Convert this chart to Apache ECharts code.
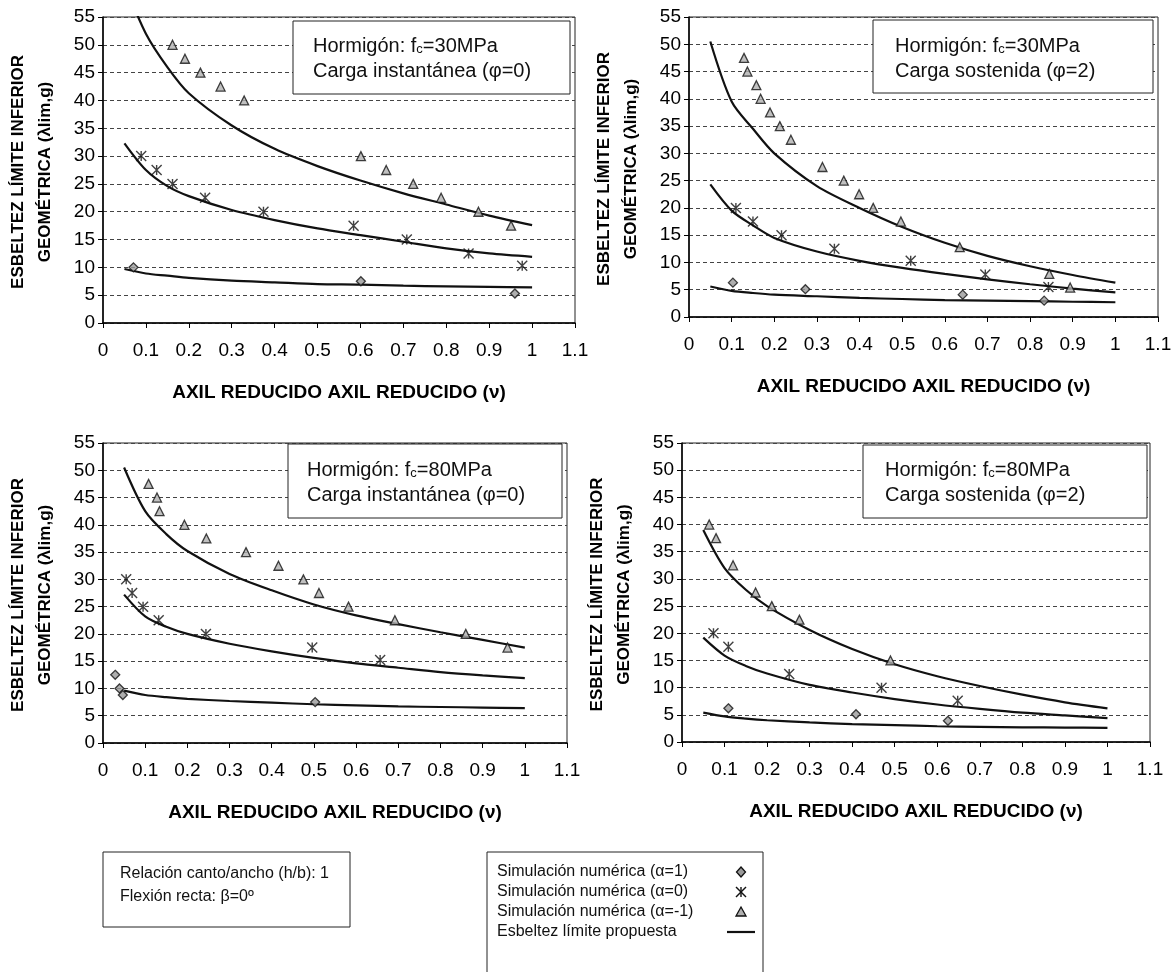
<!DOCTYPE html>
<html><head><meta charset="utf-8">
<script src="https://cdn.jsdelivr.net/npm/echarts/dist/echarts.min.js"></script>
<style>html,body{margin:0;padding:0;background:#fff}#c{width:1175px;height:972px}</style>
</head><body><div id="c"></div>
<script>
// ---------- DATA ----------
const xTickLabels = ['0','0.1','0.2','0.3','0.4','0.5','0.6','0.7','0.8','0.9','1','1.1'];
const curveX = [0.05, 0.1, 0.15, 0.2, 0.3, 0.4, 0.5, 0.6, 0.7, 0.8, 0.9, 1.0];

// Panel 1: fc=30MPa, carga instantánea (φ=0)
const p1Alpha1  = [[0.071,10],[0.601,7.5],[0.960,5.3]];
const p1Alpha0  = [[0.089,30],[0.125,27.5],[0.162,25],[0.238,22.5],[0.374,20],[0.584,17.5],[0.708,15],[0.852,12.5],[0.977,10.3]];
const p1AlphaM1 = [[0.162,50],[0.191,47.5],[0.227,45],[0.274,42.5],[0.329,40],[0.601,30],[0.660,27.5],[0.723,25],[0.788,22.5],[0.875,20],[0.951,17.5]];
const p1LimTop  = [61, 52, 46, 41.3, 35.5, 31.3, 28.2, 25.6, 23.3, 21.3, 19.3, 17.6];
const p1LimMid  = [32.3, 27.5, 24.6, 22.8, 20.3, 18.5, 17.0, 15.8, 14.6, 13.4, 12.5, 11.9];
const p1LimLow  = [9.7, 8.9, 8.5, 8.1, 7.6, 7.3, 7.0, 6.9, 6.7, 6.6, 6.5, 6.4];

// Panel 2: fc=30MPa, carga sostenida (φ=2)
const p2Alpha1  = [[0.103,6.3],[0.273,5.1],[0.642,4.1],[0.833,3.0]];
const p2Alpha0  = [[0.110,20],[0.150,17.5],[0.217,15],[0.341,12.5],[0.520,10.3],[0.695,7.8],[0.843,5.5]];
const p2AlphaM1 = [[0.129,47.5],[0.137,45],[0.158,42.5],[0.168,40],[0.190,37.5],[0.213,35],[0.239,32.5],[0.313,27.5],[0.363,25],[0.399,22.5],[0.432,20],[0.497,17.5],[0.635,12.8],[0.845,7.9],[0.894,5.4]];
const p2LimTop  = [50.5, 39.5, 34.5, 30, 24, 20, 16.5, 13.6, 11.2, 9.3, 7.7, 6.3];
const p2LimMid  = [24.3, 19.5, 16.8, 14.5, 12, 10.3, 9.0, 7.9, 6.9, 6.0, 5.2, 4.5];
const p2LimLow  = [5.6, 4.8, 4.4, 4.1, 3.8, 3.5, 3.3, 3.1, 3.0, 2.9, 2.8, 2.7];

// Panel 3: fc=80MPa, carga instantánea (φ=0)
const p3Alpha1  = [[0.029,12.5],[0.039,10],[0.047,8.8],[0.503,7.5]];
const p3Alpha0  = [[0.055,30],[0.069,27.5],[0.095,25],[0.132,22.5],[0.244,20],[0.496,17.5],[0.657,15.2]];
const p3AlphaM1 = [[0.108,47.5],[0.128,45],[0.134,42.5],[0.193,40],[0.245,37.5],[0.339,35],[0.416,32.5],[0.475,30],[0.512,27.5],[0.582,25],[0.692,22.5],[0.860,20],[0.959,17.5]];
const p3LimTop  = [50.5, 42.5, 38.3, 35.2, 31, 28, 25.4, 23.4, 21.8, 20.3, 18.9, 17.5];
const p3LimMid  = [27.2, 23.2, 21.3, 20, 18.2, 16.8, 15.6, 14.6, 13.8, 13.0, 12.4, 11.9];
const p3LimLow  = [9.6, 8.8, 8.4, 8.1, 7.7, 7.4, 7.1, 6.9, 6.7, 6.6, 6.5, 6.4];

// Panel 4: fc=80MPa, carga sostenida (φ=2)
const p4Alpha1  = [[0.109,6.2],[0.409,5.1],[0.625,3.9]];
const p4Alpha0  = [[0.074,20],[0.109,17.5],[0.252,12.5],[0.469,10],[0.648,7.6]];
const p4AlphaM1 = [[0.064,40],[0.080,37.5],[0.120,32.5],[0.173,27.5],[0.211,25],[0.276,22.5],[0.490,15]];
const p4LimTop  = [39, 32, 28, 25, 20.6, 17.1, 14.3, 12.1, 10.3, 8.7, 7.3, 6.2];
const p4LimMid  = [19.2, 15.9, 14, 12.6, 10.5, 9.1, 7.9, 6.9, 6.1, 5.4, 4.9, 4.4];
const p4LimLow  = [5.4, 4.7, 4.3, 4.0, 3.6, 3.3, 3.1, 2.9, 2.8, 2.7, 2.65, 2.6];

const panelTitles = [
  ['30', 'Carga instantánea (φ=0)'],
  ['30', 'Carga sostenida (φ=2)'],
  ['80', 'Carga instantánea (φ=0)'],
  ['80', 'Carga sostenida (φ=2)']
];
const seriesNames = ['Simulación numérica (α=1)', 'Simulación numérica (α=0)', 'Simulación numérica (α=-1)', 'Esbeltez límite propuesta'];
const xAxisTitle = 'AXIL REDUCIDO AXIL REDUCIDO (ν)';
const yAxisTitle = 'ESBELTEZ LÍMITE INFERIOR\nGEOMÉTRICA (λlim,g)';
const noteLines = ['Relación canto/ancho (h/b): 1', 'Flexión recta: β=0º'];

// ---------- LAYOUT ----------
const FF = '"Liberation Sans", Arial, sans-serif';
const panels = [
  {grid:{left:103, top:17,  width:472, height:306}, box:[293,21,277,73],  text:[313,31], ytx:18},
  {grid:{left:689, top:17,  width:469, height:300}, box:[873,20,280,73],  text:[895,31], ytx:604},
  {grid:{left:103, top:443, width:464, height:300}, box:[288,444,274,74], text:[307,455], ytx:18},
  {grid:{left:682, top:443, width:468, height:299}, box:[863,445,284,73], text:[885,455], ytx:597}
];
const pdata = [
  [p1Alpha1,p1Alpha0,p1AlphaM1,[p1LimTop,p1LimMid,p1LimLow]],
  [p2Alpha1,p2Alpha0,p2AlphaM1,[p2LimTop,p2LimMid,p2LimLow]],
  [p3Alpha1,p3Alpha0,p3AlphaM1,[p3LimTop,p3LimMid,p3LimLow]],
  [p4Alpha1,p4Alpha0,p4AlphaM1,[p4LimTop,p4LimMid,p4LimLow]]
];

const starPath = 'path://M0,0L10,10M10,0L0,10M5,0L5,10';
const styles = [
  {symbol:'diamond', symbolSize:9, itemStyle:{color:'#9a9a9a', borderColor:'#111', borderWidth:1.3}},
  {symbol:starPath,  symbolSize:10, itemStyle:{color:'rgba(0,0,0,0)', borderColor:'#111', borderWidth:1.4}},
  {symbol:'triangle', symbolSize:9, itemStyle:{color:'#b0b0b0', borderColor:'#111', borderWidth:1.3}}
];

const grids = [], xAxes = [], yAxes = [], series = [], graphics = [];
panels.forEach((p, i) => {
  grids.push(Object.assign({show:true, borderColor:'#222', borderWidth:1, backgroundColor:'#fff'}, p.grid));
  xAxes.push({
    type:'value', gridIndex:i, min:0, max:1.1, interval:0.1,
    axisLine:{show:true, onZero:false, lineStyle:{color:'#000', width:1.5}},
    axisTick:{show:true, length:5, lineStyle:{color:'#000'}},
    axisLabel:{color:'#000', fontSize:19, fontFamily:FF, margin:18,
      formatter:(v)=> xTickLabels[Math.round(v*10)]},
    splitLine:{show:false}
  });
  yAxes.push({
    type:'value', gridIndex:i, min:0, max:55, interval:5,
    axisLine:{show:true, lineStyle:{color:'#000', width:1.5}},
    axisTick:{show:true, length:5, lineStyle:{color:'#000'}},
    axisLabel:{color:'#000', fontSize:19, fontFamily:FF, margin:8},
    splitLine:{show:true, lineStyle:{color:'#444', width:1, type:[4,3]}}
  });
  const d = pdata[i];
  for (let k = 0; k < 3; k++) {
    series.push(Object.assign({
      type:'scatter', name:seriesNames[k], xAxisIndex:i, yAxisIndex:i, data:d[k], z:5
    }, styles[k]));
  }
  d[3].forEach(vals => {
    series.push({
      type:'line', name:seriesNames[3], xAxisIndex:i, yAxisIndex:i,
      data: curveX.map((x, j) => [x, vals[j]]),
      smooth:0.3, symbol:'none', clip:true, z:4,
      itemStyle:{color:'#111'},
      lineStyle:{color:'#111', width:2.2}
    });
  });
  // annotation box
  graphics.push({type:'rect', z:10, shape:{x:p.box[0], y:p.box[1], width:p.box[2], height:p.box[3]},
    style:{fill:'#fff', stroke:'#222', lineWidth:1}});
  graphics.push({type:'text', z:11, x:p.text[0], y:p.text[1], style:{
    text:'{t|Hormigón: f}{s|c}{t|=' + panelTitles[i][0] + 'MPa}\n{t|' + panelTitles[i][1] + '}',
    rich:{t:{fontSize:20, fontFamily:FF, fill:'#111', lineHeight:25, verticalAlign:'bottom'},
          s:{fontSize:13, fontFamily:FF, fill:'#111', lineHeight:18, verticalAlign:'bottom'}},
    align:'left', verticalAlign:'top', textAlign:'left', textVerticalAlign:'top'}});
  // axis titles
  const g = p.grid;
  graphics.push({type:'text', z:11, x:g.left + g.width/2, y:g.top + g.height + 70, style:{
    text:xAxisTitle, font:'bold 19px ' + FF, fill:'#000',
    align:'center', verticalAlign:'middle', textAlign:'center', textVerticalAlign:'middle'}});
  graphics.push({type:'text', z:11, x:p.ytx + 13.5, y:g.top + g.height/2 + 2, rotation:Math.PI/2, style:{
    text:yAxisTitle, font:'bold 17px ' + FF, fill:'#000', lineHeight:27,
    align:'center', verticalAlign:'middle', textAlign:'center', textVerticalAlign:'middle'}});
});

// bottom notes box
graphics.push({type:'rect', z:10, shape:{x:103, y:852, width:247, height:75},
  style:{fill:'#fff', stroke:'#222', lineWidth:1}});
graphics.push({type:'text', z:11, x:120, y:862, style:{
  text:noteLines.join('\n'), font:'16px ' + FF, fill:'#111', lineHeight:23,
  align:'left', verticalAlign:'top', textAlign:'left', textVerticalAlign:'top'}});

// legend box (drawn as graphics so the key symbols sit in one column)
const LG = {x:487, y:852, w:276, h:130, textX:497, row0:872, rowStep:20, keyX:741};
graphics.push({type:'rect', z:10, shape:{x:LG.x, y:LG.y, width:LG.w, height:LG.h},
  style:{fill:'#fff', stroke:'#222', lineWidth:1}});
seriesNames.forEach((nm, k) => {
  const cy = LG.row0 + k*LG.rowStep;
  graphics.push({type:'text', z:11, x:LG.textX, y:cy, style:{
    text:nm, font:'16px ' + FF, fill:'#111',
    align:'left', verticalAlign:'middle', textAlign:'left', textVerticalAlign:'middle'}});
  const kx = LG.keyX;
  if (k === 0) {
    graphics.push({type:'polygon', z:11, shape:{points:[[kx,cy-5],[kx+4.5,cy],[kx,cy+5],[kx-4.5,cy]]},
      style:{fill:'#9a9a9a', stroke:'#111', lineWidth:1.3}});
  } else if (k === 1) {
    graphics.push({type:'polyline', z:11, shape:{points:[[kx-5,cy-5],[kx+5,cy+5]]}, style:{stroke:'#111', lineWidth:1.4}});
    graphics.push({type:'polyline', z:11, shape:{points:[[kx+5,cy-5],[kx-5,cy+5]]}, style:{stroke:'#111', lineWidth:1.4}});
    graphics.push({type:'polyline', z:11, shape:{points:[[kx,cy-5],[kx,cy+5]]}, style:{stroke:'#111', lineWidth:1.4}});
  } else if (k === 2) {
    graphics.push({type:'polygon', z:11, shape:{points:[[kx,cy-5],[kx+5,cy+4],[kx-5,cy+4]]},
      style:{fill:'#b0b0b0', stroke:'#111', lineWidth:1.3}});
  } else {
    graphics.push({type:'polyline', z:11, shape:{points:[[kx-14,cy],[kx+14,cy]]}, style:{stroke:'#111', lineWidth:2.2}});
  }
});

const option = {
  animation:false,
  backgroundColor:'#fff',
  grid:grids, xAxis:xAxes, yAxis:yAxes, series:series,
  graphic:graphics
};
const chart = echarts.init(document.getElementById('c'), null, {renderer:'canvas'});
chart.setOption(option);
</script></body></html>
